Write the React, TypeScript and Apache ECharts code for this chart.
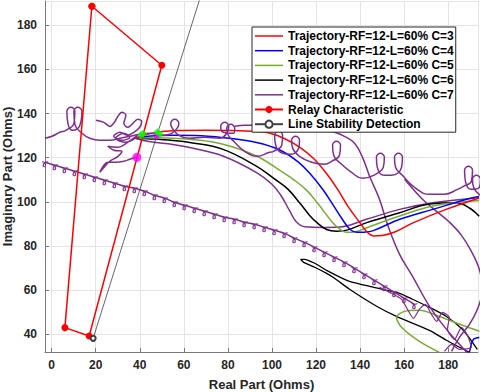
import React, { useEffect, useRef } from "react";
import * as echarts from "echarts";

const RED = "#ff0000";
const BLUE = "#0000ff";
const GREEN = "#77ac30";
const BLACK = "#000000";
const PURPLE = "#7e2f8e";

const legendNames = [
  "Trajectory-RF=12-L=60% C=3",
  "Trajectory-RF=12-L=60% C=4",
  "Trajectory-RF=12-L=60% C=5",
  "Trajectory-RF=12-L=60% C=6",
  "Trajectory-RF=12-L=60% C=7",
  "Relay Characteristic",
  "Line Stability Detection",
];

const traj3 = [[37.8,128.8],[45,131],[55,132.2],[70,132.4],[85,132.2],[97,131.5],[106,128.5],[113,124.5],[119,119.5],[125,112.5],[129.8,105.7],[134.5,98],[139.8,90.7],[143,86.5],[146,84.6],[150,84.8],[156,86.5],[164,90.5],[179,96.6],[194,101.8]];
const traj4 = [[37.8,128.8],[45,129.8],[55,130.2],[65,130.1],[78,129.1],[93,126.9],[103.5,123.5],[112,118],[118,112],[123,105.7],[127.5,99],[132,92],[135.5,87.5],[138.5,86.2],[142,86.3],[146,87],[158,92.1],[173,96.6],[189.6,101.5],[194,102.5]];
const traj5 = [[37.8,128.8],[45,129],[55,128.8],[62.7,128.4],[77.8,126.1],[92.9,120.8],[104,114],[110,110],[116,105],[121,99],[127.5,90.7],[131,87.5],[134,86.2],[138,86.5],[143,88.3],[158,93.6],[173,98.1],[194,100.6]];
const traj5Tail = [[176.0,31.8],[166.9,36.8],[158.8,43.2],[156.5,47.7],[160.1,50.4],[166.9,50.9],[176.0,48.1],[186.4,44.1],[194.1,41.4]];
const traj6 = [[37.8,128.8],[45,128.5],[55,127.8],[62.7,126.9],[77.8,123.8],[92.9,116.2],[101,110.5],[107,106],[113,99],[117,94],[120.3,90.7],[124.8,87.5],[129.3,86.7],[134,87.2],[143,90.6],[158,95.1],[171.5,99],[183.7,99.6],[190,97],[194,93.5]];
const traj6Tail = [[189.6,31.8],[179.2,37.3],[171.5,41.8],[156.5,48.1],[147.5,52.7],[135.2,60.4],[128.4,65.4],[124.8,67.6],[119.4,70.4],[114.4,72.6],[113.0,74.0],[114.8,74.0],[119.4,72.2],[124.8,69.0],[135.2,64.0],[150.2,60.4],[157.9,58.6],[163.8,55.9],[171.5,52.2],[179.2,48.1],[186.4,42.3],[191.0,36.4],[193.2,33.2]];
const traj4Tail = [[189.6,31.8],[191.4,37.7],[194.1,38.6]];
const traj7 = [[37.8,128.8],[45,127.2],[55,126],[62.7,124.6],[77.7,120.8],[93,113.3],[100,108],[104,103],[108,96],[111,91],[115,88.7],[123,88.4],[130.7,88.6],[142.8,92.1],[157.9,96.6],[173,99.6],[194,101.9]];
const traj7Loops = [[-3.04,128.8],[0.14,129.71],[3.76,131.52],[6.48,132.42],[10.11,135.6],[10.56,141.03],[8.75,142.85],[6.94,141.03],[7.39,135.6],[9.66,132.42],[12.83,134.69],[13.74,141.03],[11.92,142.85],[10.11,141.03],[10.56,135.14],[13.74,131.07],[17.36,128.8],[21.89,127.89],[26.42,127.89],[31,128.8],[35.5,129.7],[40,130.6],[44.62,131.07],[50.06,130.16],[53.59,130.61],[57.25,133.78],[57.71,135.6],[55.89,137.41],[54.08,135.6],[54.53,133.78],[57.71,130.16],[62.69,128.8],[69.49,129.25],[76.3,128.8],[79.93,131.97],[80.38,134.24],[78.56,136.05],[76.75,134.24],[77.2,131.97],[82.64,131.07],[83.09,133.33],[81.28,135.14],[79.47,133.33],[79.93,130.61],[83.09,126.99],[87.62,122.91],[93.06,120.64],[98.95,122.45],[100.8,122.91],[104.4,125.63],[104.8,130.16],[103.0,131.97],[101.2,130.16],[101.7,125.63],[104.8,122.0],[108.5,121.55],[112.1,124.27],[112.5,127.89],[110.7,129.71],[108.9,127.89],[109.4,124.27],[112.5,120.64],[118.0,117.92],[123.9,117.02],[127.1,118.38],[130.6,121.1],[131.1,125.63],[129.3,127.44],[127.5,125.63],[128.0,121.1],[131.1,117.47],[136.1,113.39],[141.1,110.68],[146.1,112.04],[150.5,115.66],[151.0,120.19],[149.2,122.0],[147.4,120.19],[147.8,115.66],[151.0,112.04],[154.3,112.04],[158.8,115.66],[159.2,120.19],[157.4,122.0],[155.6,120.19],[156.1,115.66],[159.2,112.04],[164.7,106.6],[171.5,103.43],[178.3,103.43],[184.2,105.69],[186.9,107.05],[190.5,109.32],[191.0,114.3],[189.2,116.11],[187.4,114.3],[187.8,109.32],[190.5,105.69],[194.1,106.6],[194.6,110.22],[192.8,112.04],[191.0,110.22],[191.5,106.6],[194.6,102.97]];
const traj7Tangle = [[20.1,136.95],[23.7,136.0],[26.4,134.2],[28.2,135.6],[30.1,138.8],[31.9,140.6],[33.7,139.2],[32.8,135.6],[34.6,133.8],[36.9,135.6],[39.1,137.4],[40.9,136.5],[40.0,133.8],[37.3,131.5],[34.6,130.2],[31.0,131.5],[28.2,129.7],[31.9,127.9],[35.5,129.2],[32.8,131.1],[29.1,128.8],[33.7,127.0],[37.3,128.4],[39.1,130.2],[33.2,126.1],[30.1,124.7],[25.5,125.2],[28.2,123.4],[31.9,122.9],[30.1,120.6],[26.4,118.4],[23.7,115.6],[21.9,113.4],[23.7,116.6],[25.5,117.9],[29.1,117.9],[32.8,118.4],[35.5,119.3],[38.7,120.2]];
const traj7Steep = [[83.09,134.24],[87.62,134.69],[94.42,134.69],[108.0,133.78],[121.6,132.88],[128.4,131.52],[132.9,129.71],[137.5,126.53],[141.1,120.19],[144.3,111.58],[148.8,101.16],[152.4,89.83],[157.9,76.24],[163.8,66.27],[171.5,52.67],[179.2,42.25],[185.1,35.46],[189.6,30.48]];
const traj7Arc = [[160.2,110.22],[168.3,101.16],[174.7,95.72],[180.6,90.74],[186.0,84.85],[190.5,77.6],[194.1,69.44],[195.5,60.38],[193.2,51.32],[189.6,44.52],[185.1,38.63],[181.5,32.29]];
const traj7Curly = [[-3.04,117.92],[1.5,116.56],[6.03,115.21],[10.56,113.85],[15.09,112.49],[19.63,111.13],[24.16,109.77],[28.69,108.41],[33.23,107.05],[37.76,106.14],[42.29,104.79],[46.83,102.97],[51.36,101.61],[55.89,99.8],[60.42,98.44],[64.96,97.08],[69.49,95.72],[74.02,94.36],[78.56,93.0],[83.09,92.1],[87.62,90.74],[92.16,89.83],[96.69,88.47],[101.22,87.11],[105.75,85.76],[110.29,83.49],[114.82,81.68],[119.35,79.41],[123.89,77.15],[128.42,74.88],[132.95,72.62],[137.49,69.9],[142.02,67.18],[146.55,64.46],[151.08,61.74],[155.62,59.02],[160.15,56.3],[164.68,53.59]];
const traj7Zigzag = [[148.8,61.29],[154.3,58.57],[158.8,55.85],[161.5,51.32],[164.2,47.24],[166.9,51.32],[169.6,53.59],[172.4,49.06],[174.7,45.88],[177.4,49.96],[180.5,47.7],[179.6,42.25],[182.8,37.73],[186.0,43.16],[188.7,39.54],[190.5,34.1],[185.1,33.19],[181.5,35.46],[178.3,32.29]];

const relay = [[18.27,188.61],[50.0,161.88],[17.04,39.22],[6.03,43.03],[18.27,188.61]];
const stability = [[18.86,38.18],[67.8,193.7]];
const magentaPts = [[38.7,120.2],[47.7,129.3]];
const magentaSizes = [9, 5];
const greenPts = [[40.6,130.2],[41.6,131.0],[48.0,131.6],[49.0,130.8]];

const CURL = "path://M0,0 C4,0 6,3 6,6 C6,9 2,9 2,6 C2,3 6,0 10,0";
const LINE_ICON = "path://M0,0L28,0L28,1.5L0,1.5Z";

export default function App() {
  const ref = useRef<HTMLDivElement>(null);
  useEffect(() => {
    if (!ref.current) return;
    const chart = echarts.init(ref.current, undefined, { renderer: "svg" });
    const lineS = (name: string, data: number[][], color: string, extra: any = {}) => ({
      type: "line",
      name,
      data,
      symbol: "none",
      smooth: 0.4,
      lineStyle: { color, width: 1.5 },
      itemStyle: { color },
      emphasis: { disabled: true },
      z: 3,
      ...extra,
    });
    const font = "'Liberation Sans', Arial, sans-serif";
    chart.setOption({
      animation: false,
      backgroundColor: "#ffffff",
      grid: { left: 45, right: 2, top: 1, bottom: 40, containLabel: false, outerBoundsMode: "none" },
      xAxis: {
        type: "value",
        min: -3,
        max: 193.5,
        splitNumber: 10,
        name: "Real Part (Ohms)",
        nameLocation: "middle",
        nameGap: 26,
        nameTextStyle: { fontFamily: font, fontWeight: "bold", fontSize: 13, color: "#262626" },
        axisLine: { show: true, onZero: false, lineStyle: { color: "#7a7a7a" } },
        axisTick: { show: true, inside: true, length: 4, lineStyle: { color: "#7a7a7a" } },
        axisLabel: { showMinLabel: false, showMaxLabel: false, fontFamily: font, fontWeight: "bold", fontSize: 12, color: "#262626", margin: 7 },
        splitLine: { show: true, lineStyle: { color: "#e3e3e3", width: 1 } },
      },
      yAxis: {
        type: "value",
        min: 32,
        max: 191,
        splitNumber: 8,
        name: "Imaginary Part (Ohms)",
        nameLocation: "middle",
        nameGap: 31,
        nameMoveOverlap: false,
        nameTextStyle: { fontFamily: font, fontWeight: "bold", fontSize: 13, color: "#262626" },
        axisLine: { show: true, onZero: false, lineStyle: { color: "#7a7a7a" } },
        axisTick: { show: true, inside: true, length: 4, lineStyle: { color: "#7a7a7a" } },
        axisLabel: { showMinLabel: false, showMaxLabel: false, fontFamily: font, fontWeight: "bold", fontSize: 12, color: "#262626", margin: 8 },
        splitLine: { show: true, lineStyle: { color: "#e3e3e3", width: 1 } },
      },
      legend: {
        data: legendNames.map((n, i) => (i < 5 ? { name: n, icon: LINE_ICON } : { name: n })),
        orient: "vertical",
        left: 252,
        top: 27,
        itemWidth: 28,
        itemHeight: 9,
        itemGap: 2.7,
        itemTextGap: 2,
        symbolKeepAspect: true,
        padding: [3, 2, 2, 2],
        backgroundColor: "#ffffff",
        borderColor: "#262626",
        borderWidth: 1,
        borderRadius: 0,
        textStyle: { fontFamily: font, fontWeight: "bold", fontSize: 12, lineHeight: 12, color: "#000000" },
        selectedMode: false,
      },
      series: [
        lineS("_c6tail", traj6Tail, BLACK, { smooth: 0.2, lineStyle: { color: BLACK, width: 1.3 } }),
        lineS("_c5tail", traj5Tail, GREEN, { smooth: 0.3 }),
        lineS("_c4tail", traj4Tail, BLUE, { smooth: 0.3 }),
        lineS(legendNames[4], traj7, PURPLE),
        lineS("_c7steep", traj7Steep, PURPLE),
        lineS("_c7arc", traj7Arc, PURPLE),
        lineS("_c7zig", traj7Zigzag, PURPLE, { smooth: 0.2, lineStyle: { color: PURPLE, width: 1.2 } }),
        lineS("_c7curly", traj7Curly, PURPLE, {
          smooth: 0.3,
          symbol: CURL,
          showSymbol: true,
          symbolSize: [6, 5],
          symbolOffset: [0, 2],
          itemStyle: { color: "none", borderColor: PURPLE, borderWidth: 1.1 },
        }),
        lineS(legendNames[3], traj6, BLACK),
        lineS(legendNames[2], traj5, GREEN),
        lineS(legendNames[1], traj4, BLUE),
        lineS(legendNames[0], traj3, RED),
        lineS("_c7loops", traj7Loops, PURPLE, { smooth: 0.45 }),
        lineS("_c7tangle", traj7Tangle, PURPLE, { smooth: 0.35 }),
        {
          type: "line",
          name: legendNames[5],
          data: relay,
          symbol: "circle",
          symbolSize: 7,
          showSymbol: true,
          lineStyle: { color: RED, width: 1.5 },
          itemStyle: { color: RED },
          emphasis: { disabled: true },
          z: 4,
        },
        {
          type: "line",
          name: legendNames[6],
          data: stability.map((p, i) => (i === 0 ? { value: p } : { value: p, symbol: "none" })),
          symbol: "emptyCircle",
          symbolSize: 5,
          showSymbol: true,
          lineStyle: { color: "#404040", width: 0.8 },
          itemStyle: { color: "#404040", borderColor: "#404040", borderWidth: 0.8 },
          emphasis: { disabled: true },
          z: 4,
        },
        {
          type: "scatter",
          name: "_green",
          data: greenPts,
          symbol: "diamond",
          symbolSize: 8,
          itemStyle: { color: "#00ff00" },
          emphasis: { disabled: true },
          z: 5,
        },
        {
          type: "scatter",
          name: "_magenta",
          data: magentaPts.map((p, i) => ({ value: p, symbolSize: magentaSizes[i] })),
          symbol: "circle",
          itemStyle: { color: "#ff00ff" },
          emphasis: { disabled: true },
          z: 5,
        },
      ],
    });
    return () => chart.dispose();
  }, []);
  return <div ref={ref} style={{ width: 480, height: 392, position: "absolute", left: 0, top: 0 }} />;
}
